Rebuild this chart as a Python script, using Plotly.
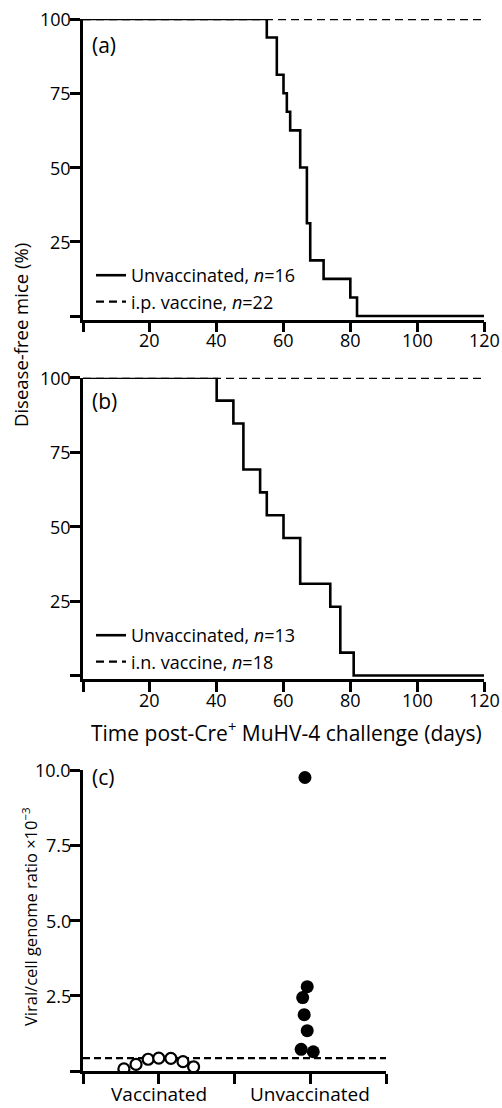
import plotly.graph_objects as go

W, H = 502, 1108
FONT = "Open Sans"

# ---------------- data ----------------
# panel (a): survival, days and % disease-free (Kaplan-Meier steps)
a_unvacc_days = [0, 55, 58, 60, 61, 62, 65, 67, 68, 72, 80, 82, 120]
a_unvacc_pct = [100, 93.75, 81.25, 75, 68.75, 62.5, 50, 31.25, 18.75, 12.5, 6.25, 0, 0]
a_vacc_days = [0, 120]
a_vacc_pct = [100, 100]
a_names = ["Unvaccinated, <i>n</i>=16", "i.p. vaccine, <i>n</i>=22"]

# panel (b)
b_unvacc_days = [0, 40, 45, 48, 53, 55, 60, 65, 74, 77, 81, 120]
b_unvacc_pct = [100, 92.3, 84.6, 69.2, 61.5, 53.8, 46.2, 30.8, 23.1, 7.7, 0, 0]
b_vacc_days = [0, 120]
b_vacc_pct = [100, 100]
b_names = ["Unvaccinated, <i>n</i>=13", "i.n. vaccine, <i>n</i>=18"]

day_ticks = [0, 20, 40, 60, 80, 100, 120]
day_ticktext = ["", "20", "40", "60", "80", "100", "120"]
pct_ticks = [0, 25, 50, 75, 100]
pct_ticktext = ["", "25", "50", "75", "100"]

# panel (c): viral/cell genome ratio x10^-3
c_categories = ["Vaccinated", "Unvaccinated"]
c_category_pos = [0.5, 1.5]
c_vacc_x = [0.27, 0.35, 0.43, 0.50, 0.58, 0.66, 0.73]
c_vacc_y = [0.07, 0.22, 0.39, 0.43, 0.42, 0.31, 0.14]
c_unvacc_x = [1.465, 1.48, 1.45, 1.46, 1.48, 1.44, 1.52]
c_unvacc_y = [9.75, 2.80, 2.44, 1.87, 1.34, 0.72, 0.64]
c_threshold = 0.43
c_ticks = [0, 2.5, 5.0, 7.5, 10.0]
c_ticktext = ["", "2.5", "5.0", "7.5", "10.0"]

# ---------------- layout helpers ----------------
def px_x(p):
    return p / W

def px_y(p):
    return 1 - p / H

fig = go.Figure()

# panel a
fig.add_trace(go.Scatter(x=a_unvacc_days, y=a_unvacc_pct, mode="lines", line_shape="hv",
                         line=dict(color="black", width=2.6), name=a_names[0],
                         xaxis="x", yaxis="y", legend="legend"))
fig.add_trace(go.Scatter(x=a_vacc_days, y=a_vacc_pct, mode="lines",
                         line=dict(color="black", width=2.4, dash="8px,5px"), name=a_names[1],
                         xaxis="x", yaxis="y", legend="legend"))
# panel b
fig.add_trace(go.Scatter(x=b_unvacc_days, y=b_unvacc_pct, mode="lines", line_shape="hv",
                         line=dict(color="black", width=2.6), name=b_names[0],
                         xaxis="x2", yaxis="y2", legend="legend2"))
fig.add_trace(go.Scatter(x=b_vacc_days, y=b_vacc_pct, mode="lines",
                         line=dict(color="black", width=2.4, dash="8px,5px"), name=b_names[1],
                         xaxis="x2", yaxis="y2", legend="legend2"))
# panel c
fig.add_trace(go.Scatter(x=[0, 2], y=[c_threshold, c_threshold], mode="lines",
                         line=dict(color="black", width=2.2, dash="7px,4px"),
                         xaxis="x3", yaxis="y3", showlegend=False))
fig.add_trace(go.Scatter(x=c_vacc_x, y=c_vacc_y, mode="markers",
                         marker=dict(symbol="circle", size=11, color="white",
                                     line=dict(color="black", width=2.2)),
                         xaxis="x3", yaxis="y3", showlegend=False))
fig.add_trace(go.Scatter(x=c_unvacc_x, y=c_unvacc_y, mode="markers",
                         marker=dict(symbol="circle", size=13, color="black",
                                     line=dict(color="black", width=0)),
                         xaxis="x3", yaxis="y3", showlegend=False))

common_axis = dict(showline=True, linecolor="black", linewidth=2.6, ticks="outside",
                   ticklen=10, tickwidth=2.6, tickcolor="black", showgrid=False,
                   zeroline=False, showticklabels=False, fixedrange=True, automargin=False)

xdom = [px_x(83), px_x(484)]
LEGFONT = dict(family=FONT, size=18, color="black")
fig.update_layout(
    width=W, height=H, autosize=False,
    margin=dict(l=0, r=0, t=0, b=0, pad=0),
    paper_bgcolor="white", plot_bgcolor="rgba(0,0,0,0)",
    font=dict(family=FONT, size=18, color="black"),
    xaxis=dict(domain=xdom, range=[0, 120], tickvals=day_ticks, anchor="y", **common_axis),
    yaxis=dict(domain=[px_y(319.6), px_y(19)], range=[-1.2, 100], tickvals=pct_ticks,
               anchor="x", **common_axis),
    xaxis2=dict(domain=xdom, range=[0, 120], tickvals=day_ticks, anchor="y2", **common_axis),
    yaxis2=dict(domain=[px_y(679.1), px_y(377.7)], range=[-1.2, 100], tickvals=pct_ticks,
                anchor="x2", **common_axis),
    xaxis3=dict(domain=[px_x(83), px_x(386)], range=[0, 2], tickvals=[0, 0.5, 1, 1.5, 2],
                anchor="y3", **common_axis),
    yaxis3=dict(domain=[px_y(1071), px_y(770)], range=[0, 10], tickvals=c_ticks,
                anchor="x3", **common_axis),
    legend=dict(x=px_x(91), y=px_y(257), xanchor="left", yanchor="top",
                bgcolor="rgba(0,0,0,0)", font=LEGFONT, tracegroupgap=0, itemwidth=30),
    legend2=dict(x=px_x(91), y=px_y(617), xanchor="left", yanchor="top",
                 bgcolor="rgba(0,0,0,0)", font=LEGFONT, tracegroupgap=0, itemwidth=30),
)

TICKFONT = dict(family=FONT, size=18, color="black")
ann = []
# tick labels, placed close to the ticks as in the original
for xa, ya, ycen in (("x", "y", 340), ("x2", "y2", 700)):
    for v, t in zip(day_ticks, day_ticktext):
        if t:
            ann.append(dict(text=t, x=v, xref=xa, y=px_y(ycen), yref="paper",
                            xanchor="center", yanchor="middle", showarrow=False,
                            font=TICKFONT))
    for v, t in zip(pct_ticks, pct_ticktext):
        if t:
            ann.append(dict(text=t, x=px_x(73), xref="paper", y=v, yref=ya,
                            xanchor="right", yanchor="middle", showarrow=False,
                            font=TICKFONT))
for v, t in zip(c_ticks, c_ticktext):
    if t:
        ann.append(dict(text=t, x=px_x(73), xref="paper", y=v, yref="y3",
                        xanchor="right", yanchor="middle", showarrow=False, font=TICKFONT))
for v, t in zip(c_category_pos, c_categories):
    ann.append(dict(text=t, x=v, xref="x3", y=px_y(1094), yref="paper",
                    xanchor="center", yanchor="middle", showarrow=False,
                    font=dict(family=FONT, size=19, color="black")))

for lab, ycen in (("(a)", 45), ("(b)", 401), ("(c)", 777)):
    ann.append(dict(text=lab, x=px_x(90), y=px_y(ycen), xref="paper", yref="paper",
                    xanchor="left", yanchor="middle", showarrow=False,
                    font=dict(family=FONT, size=21)))
ann.append(dict(text="Disease-free mice (%)", x=px_x(20), y=px_y(335), xref="paper",
                yref="paper", xanchor="center", yanchor="middle", textangle=-90,
                showarrow=False, font=dict(family=FONT, size=18.5)))
ann.append(dict(text="Time post-Cre<sup>+</sup> MuHV-4 challenge (days)", x=px_x(286),
                y=px_y(731), xref="paper", yref="paper", xanchor="center",
                yanchor="middle", showarrow=False, font=dict(family=FONT, size=21)))
ann.append(dict(text="Viral/cell genome ratio ×10<sup>−3</sup>", x=px_x(30), y=px_y(917),
                xref="paper", yref="paper", xanchor="center", yanchor="middle",
                textangle=-90, showarrow=False, font=dict(family=FONT, size=16.5)))
fig.update_layout(annotations=ann)

fig.write_html(
    "out.html",
    config={"responsive": False, "displayModeBar": False},
    post_script="document.body.style.margin='0';document.body.style.padding='0';"
                "document.body.style.overflow='hidden';"
                "document.documentElement.style.overflow='hidden';",
)
